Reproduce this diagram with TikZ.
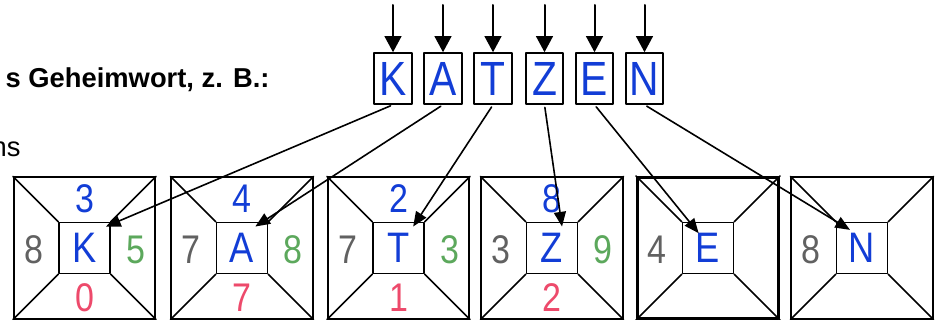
\documentclass[tikz,border=0pt]{standalone}
\usepackage{fontspec}
\setmainfont{Liberation Sans}
\newfontfamily\penfont[FakeStretch=0.85]{Liberation Sans}
\usetikzlibrary{arrows.meta}
\definecolor{penblue}{rgb}{0.07,0.24,0.84}
\definecolor{pengray}{rgb}{0.38,0.38,0.38}
\definecolor{pengreen}{rgb}{0.36,0.66,0.36}
\definecolor{penred}{rgb}{0.93,0.29,0.42}
\begin{document}
\begin{tikzpicture}[line cap=round,line join=round,x=0.75pt,y=-0.75pt,
	wordbox/.style={draw,line width=1.4pt,minimum width=28pt,minimum height=38pt,inner sep=0pt,text=penblue,font=\penfont\fontsize{36}{36}\selectfont},
	outersq/.style={draw,line width=1.4pt,minimum size=106pt,inner sep=0pt},
	innersq/.style={draw,line width=1.2pt,minimum size=38pt,inner sep=0pt,text=penblue,font=\penfont\fontsize{32}{32}\selectfont},
	digit/.style={inner sep=0pt,font=\penfont\fontsize{30}{30}\selectfont},
	feed/.style={-{Triangle[length=12pt,width=12.5pt]},line width=1.5pt},
	hint/.style={-{Triangle[length=11pt,width=9pt]},line width=1.2pt,shorten <=2pt}]
	\useasboundingbox (0,0) rectangle (935,320);
	\clip (0,0) rectangle (935,320);
	\node[anchor=base west,font=\bfseries\fontsize{20.5}{24}\selectfont] (title) at (1,88) {s Geheimwort, z. B.:};
	\node[anchor=base west,font=\fontsize{20.5}{24}\selectfont] (note) at (-13,157) {ns};
	% Geheimwort
	\node[wordbox] (wK) at (393,78.5) {K};
	\node[wordbox] (wA) at (443,78.5) {A};
	\node[wordbox] (wT) at (493,78.5) {T};
	\node[wordbox] (wZ) at (544.5,78.5) {Z};
	\node[wordbox] (wE) at (594.5,78.5) {E};
	\node[wordbox] (wN) at (644.5,78.5) {N};
	\coordinate (tK) at (393,5);
	\coordinate (tA) at (443,5);
	\coordinate (tT) at (493,5);
	\coordinate (tZ) at (544.5,5);
	\coordinate (tE) at (594.5,5);
	\coordinate (tN) at (644.5,5);
	\draw [feed] (tK) -- (wK);
	\draw [feed] (tA) -- (wA);
	\draw [feed] (tT) -- (wT);
	\draw [feed] (tZ) -- (wZ);
	\draw [feed] (tE) -- (wE);
	\draw [feed] (tN) -- (wN);
	% Felder
	\node[outersq] (oK) at (84.5,248) {};
	\node[outersq] (oA) at (242,248) {};
	\node[outersq] (oT) at (398.5,248) {};
	\node[outersq] (oZ) at (552,248) {};
	\node[outersq,line width=2.2pt] (oE) at (708,248) {};
	\node[outersq] (oN) at (862,248) {};
	\node[innersq] (iK) at (84.5,248) {K};
	\node[innersq] (iA) at (242,248) {A};
	\node[innersq] (iT) at (398.5,248) {T};
	\node[innersq] (iZ) at (552,248) {Z};
	\node[innersq] (iE) at (708,248) {E};
	\node[innersq] (iN) at (862,248) {N};
	\draw [line width=1.2pt] (oK.north west) -- (iK.north west) (oK.north east) -- (iK.north east) (oK.south west) -- (iK.south west) (oK.south east) -- (iK.south east);
	\draw [line width=1.2pt] (oA.north west) -- (iA.north west) (oA.north east) -- (iA.north east) (oA.south west) -- (iA.south west) (oA.south east) -- (iA.south east);
	\draw [line width=1.2pt] (oT.north west) -- (iT.north west) (oT.north east) -- (iT.north east) (oT.south west) -- (iT.south west) (oT.south east) -- (iT.south east);
	\draw [line width=1.2pt] (oZ.north west) -- (iZ.north west) (oZ.north east) -- (iZ.north east) (oZ.south west) -- (iZ.south west) (oZ.south east) -- (iZ.south east);
	\draw [line width=1.2pt] (oE.north west) -- (iE.north west) (oE.north east) -- (iE.north east) (oE.south west) -- (iE.south west) (oE.south east) -- (iE.south east);
	\draw [line width=1.2pt] (oN.north west) -- (iN.north west) (oN.north east) -- (iN.north east) (oN.south west) -- (iN.south west) (oN.south east) -- (iN.south east);
	% Zahlen
	\node[digit,text=penblue] (kt) at (84.5,199) {3};
	\node[digit,text=pengray] (kl) at (33.5,250) {8};
	\node[digit,text=pengreen] (kr) at (135.5,250) {5};
	\node[digit,text=penred] (kb) at (84.5,298) {0};
	\node[digit,text=penblue] (at) at (242,199) {4};
	\node[digit,text=pengray] (al) at (191,250) {7};
	\node[digit,text=pengreen] (ar) at (293,250) {8};
	\node[digit,text=penred] (ab) at (242,298) {7};
	\node[digit,text=penblue] (tt) at (398.5,199) {2};
	\node[digit,text=pengray] (tl) at (347.5,250) {7};
	\node[digit,text=pengreen] (tr) at (449.5,250) {3};
	\node[digit,text=penred] (tb) at (398.5,298) {1};
	\node[digit,text=penblue] (zt) at (552,199) {8};
	\node[digit,text=pengray] (zl) at (501,250) {3};
	\node[digit,text=pengreen] (zr) at (603,250) {9};
	\node[digit,text=penred] (zb) at (552,298) {2};
	\node[digit,text=pengray] (el) at (657,250) {4};
	\node[digit,text=pengray] (nl) at (811,250) {8};
	% Pfeile
	\coordinate (hK) at ([xshift=-3.5pt,yshift=-3.5pt]iK.north east);
	\coordinate (hA) at ([xshift=10pt,yshift=-3.5pt]iA.north);
	\coordinate (hT) at ([xshift=11pt,yshift=-3.5pt]iT.north);
	\coordinate (hZ) at ([xshift=7.5pt,yshift=-3.5pt]iZ.north);
	\coordinate (hE) at ([xshift=-7pt,yshift=-8.5pt]iE.north);
	\coordinate (hN) at ([xshift=-9pt,yshift=-6pt]iN.north);
	\draw [hint] (wK.south) -- (hK);
	\draw [hint] (wA.south) -- (hA);
	\draw [hint] (wT.south) -- (hT);
	\draw [hint] (wZ.south) -- (hZ);
	\draw [hint] (wE.south) -- (hE);
	\draw [hint] (wN.south) -- (hN);
\end{tikzpicture}
\end{document}
